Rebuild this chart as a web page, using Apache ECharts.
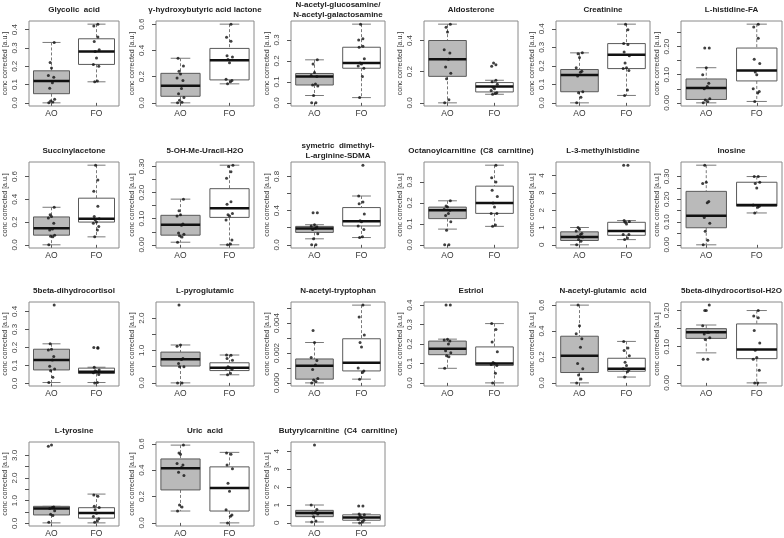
<!DOCTYPE html>
<html>
<head>
<meta charset="utf-8">
<script src="https://cdn.jsdelivr.net/npm/echarts@6/dist/echarts.min.js"></script>
<style>
  html, body { margin: 0; padding: 0; background: #fff; }
  #chart { width: 784px; height: 538px; }
</style>
</head>
<body>
<div id="chart"></div>
<script>
const groups = ['AO', 'FO'];

const titles = [
  'Glycolic  acid', 'γ-hydroxybutyric acid lactone', 'N-acetyl-glucosamine/\nN-acetyl-galactosamine',
  'Aldosterone', 'Creatinine', 'L-histidine-FA',
  'Succinylacetone', '5-OH-Me-Uracil-H2O', 'symetric  dimethyl-\nL-arginine-SDMA',
  'Octanoylcarnitine  (C8  carnitine)', 'L-3-methylhistidine', 'Inosine',
  '5beta-dihydrocortisol', 'L-pyroglutamic', 'N-acetyl-tryptophan',
  'Estriol', 'N-acetyl-glutamic  acid', '5beta-dihydrocortisol-H2O',
  'L-tyrosine', 'Uric  acid', 'Butyrylcarnitine  (C4  carnitine)'
];

// box stats: [lower whisker, Q1, median, Q3, upper whisker]
const aoBox = [
  [0.0, 0.05, 0.12, 0.175, 0.33], [0.0, 0.05, 0.13, 0.225, 0.34], [0.035, 0.085, 0.125, 0.14, 0.205],
  [0.0, 0.17, 0.28, 0.4, 0.505], [0.0, 0.06, 0.15, 0.18, 0.27], [0.0, 0.012, 0.053, 0.085, 0.125],
  [0.0, 0.085, 0.145, 0.245, 0.33], [0.01, 0.037, 0.077, 0.113, 0.175], [0.07, 0.145, 0.19, 0.215, 0.235],
  [0.075, 0.125, 0.165, 0.18, 0.21], [0.0, 0.25, 0.45, 0.75, 1.0], [0.0, 0.075, 0.128, 0.235, 0.35],
  [0.005, 0.075, 0.13, 0.19, 0.22], [0.0, 0.52, 0.73, 0.95, 1.17], [0.0, 0.00025, 0.00115, 0.0016, 0.0027],
  [0.075, 0.145, 0.175, 0.215, 0.225], [0.0, 0.08, 0.21, 0.36, 0.6], [0.083, 0.123, 0.14, 0.15, 0.16],
  [0.02, 0.37, 0.65, 0.75, 0.75], [0.09, 0.25, 0.415, 0.485, 0.59], [0.05, 0.35, 0.55, 0.7, 1.0]
];
const foBox = [
  [0.115, 0.21, 0.28, 0.35, 0.43], [0.145, 0.175, 0.325, 0.415, 0.6], [0.025, 0.165, 0.19, 0.265, 0.375],
  [0.055, 0.07, 0.105, 0.13, 0.145], [0.04, 0.185, 0.26, 0.32, 0.425], [0.005, 0.078, 0.115, 0.195, 0.28],
  [0.07, 0.2, 0.23, 0.41, 0.7], [0.0, 0.105, 0.14, 0.215, 0.305], [0.085, 0.22, 0.275, 0.435, 0.57],
  [0.088, 0.15, 0.2, 0.28, 0.38], [0.3, 0.55, 0.8, 1.3, 1.4], [0.14, 0.17, 0.175, 0.275, 0.3],
  [0.005, 0.055, 0.065, 0.085, 0.09], [0.25, 0.38, 0.47, 0.62, 0.86], [0.00025, 0.0008, 0.00135, 0.00295, 0.0052],
  [0.0, 0.09, 0.1, 0.185, 0.305], [0.045, 0.09, 0.11, 0.19, 0.32], [0.0, 0.067, 0.092, 0.163, 0.2],
  [0.02, 0.23, 0.46, 0.69, 1.29], [0.0, 0.09, 0.265, 0.425, 0.535], [0.0, 0.15, 0.3, 0.45, 0.5]
];

const aoPoints = [
  [0.0, 0.005, 0.01, 0.02, 0.08, 0.11, 0.14, 0.15, 0.19, 0.22, 0.33],
  [0.0, 0.005, 0.02, 0.04, 0.07, 0.11, 0.17, 0.19, 0.22, 0.24, 0.28, 0.34],
  [0.0, 0.0, 0.035, 0.08, 0.085, 0.09, 0.125, 0.13, 0.145, 0.185, 0.205],
  [0.0, 0.02, 0.155, 0.19, 0.23, 0.28, 0.32, 0.34, 0.455, 0.485, 0.505],
  [0.0, 0.03, 0.055, 0.06, 0.145, 0.165, 0.17, 0.19, 0.245, 0.265, 0.27],
  [0.0, 0.005, 0.01, 0.015, 0.05, 0.058, 0.07, 0.1, 0.125, 0.195, 0.195],
  [0.0, 0.07, 0.075, 0.085, 0.13, 0.14, 0.19, 0.235, 0.25, 0.265, 0.33],
  [0.01, 0.03, 0.035, 0.04, 0.045, 0.075, 0.08, 0.11, 0.115, 0.13, 0.175],
  [0.0, 0.0, 0.07, 0.13, 0.18, 0.19, 0.21, 0.22, 0.235, 0.375, 0.375],
  [0.0, 0.0, 0.07, 0.11, 0.14, 0.15, 0.165, 0.17, 0.18, 0.185, 0.21],
  [0.0, 0.2, 0.3, 0.45, 0.5, 0.6, 0.65, 0.8, 0.9, 1.0],
  [0.0, 0.02, 0.06, 0.095, 0.12, 0.185, 0.19, 0.27, 0.275, 0.35],
  [0.005, 0.035, 0.07, 0.08, 0.095, 0.13, 0.15, 0.185, 0.19, 0.22, 0.435],
  [0.0, 0.0, 0.5, 0.5, 0.6, 0.72, 0.75, 1.13, 1.17, 2.4],
  [0.0, 0.0001, 0.0002, 0.0003, 0.0009, 0.0012, 0.0015, 0.0017, 0.0027, 0.0035],
  [0.075, 0.135, 0.14, 0.155, 0.165, 0.2, 0.215, 0.22, 0.225, 0.4, 0.4],
  [0.0, 0.03, 0.06, 0.11, 0.15, 0.275, 0.34, 0.38, 0.44, 0.6],
  [0.065, 0.065, 0.12, 0.125, 0.135, 0.14, 0.14, 0.158, 0.2, 0.2, 0.215],
  [0.05, 0.35, 0.4, 0.55, 0.65, 0.7, 0.72, 3.4, 3.45],
  [0.09, 0.12, 0.135, 0.36, 0.385, 0.42, 0.44, 0.45, 0.52, 0.53, 0.59],
  [0.05, 0.1, 0.35, 0.5, 0.55, 0.6, 0.75, 1.0, 4.35]
];
const foPoints = [
  [0.115, 0.12, 0.2, 0.21, 0.245, 0.28, 0.29, 0.335, 0.36, 0.42, 0.43],
  [0.145, 0.16, 0.17, 0.18, 0.305, 0.33, 0.35, 0.36, 0.47, 0.5, 0.6],
  [0.025, 0.125, 0.165, 0.175, 0.185, 0.19, 0.21, 0.265, 0.27, 0.3, 0.305, 0.375],
  [0.055, 0.06, 0.065, 0.08, 0.09, 0.1, 0.12, 0.135, 0.145, 0.235, 0.245, 0.255],
  [0.04, 0.07, 0.175, 0.185, 0.19, 0.215, 0.255, 0.275, 0.315, 0.32, 0.395, 0.425],
  [0.005, 0.035, 0.04, 0.05, 0.1, 0.11, 0.14, 0.155, 0.23, 0.27, 0.28],
  [0.07, 0.13, 0.16, 0.19, 0.2, 0.22, 0.23, 0.25, 0.34, 0.47, 0.57, 0.7],
  [0.0, 0.003, 0.018, 0.095, 0.11, 0.115, 0.12, 0.155, 0.165, 0.255, 0.28, 0.3, 0.305],
  [0.085, 0.095, 0.18, 0.22, 0.27, 0.28, 0.36, 0.48, 0.5, 0.57, 0.93],
  [0.088, 0.095, 0.15, 0.15, 0.18, 0.2, 0.23, 0.26, 0.3, 0.32, 0.38],
  [0.3, 0.4, 0.6, 0.6, 1.2, 1.3, 1.35, 1.4, 4.6, 4.6],
  [0.14, 0.165, 0.17, 0.175, 0.25, 0.27, 0.275, 0.3, 0.3],
  [0.003, 0.005, 0.05, 0.06, 0.065, 0.07, 0.075, 0.09, 0.195, 0.2, 0.2],
  [0.25, 0.3, 0.42, 0.45, 0.47, 0.5, 0.7, 0.75, 0.85, 0.86],
  [0.00025, 0.0007, 0.0008, 0.001, 0.0024, 0.0027, 0.0032, 0.0044, 0.0052],
  [0.0, 0.05, 0.09, 0.095, 0.1, 0.105, 0.16, 0.21, 0.275, 0.305],
  [0.045, 0.085, 0.1, 0.11, 0.135, 0.16, 0.21, 0.25, 0.27, 0.32],
  [0.0, 0.0, 0.035, 0.065, 0.07, 0.09, 0.11, 0.145, 0.18, 0.185, 0.2],
  [0.05, 0.1, 0.2, 0.3, 0.45, 0.6, 0.7, 0.75, 1.2, 1.25],
  [0.0, 0.05, 0.06, 0.1, 0.24, 0.3, 0.41, 0.44, 0.52, 0.53],
  [0.0, 0.05, 0.15, 0.2, 0.3, 0.4, 0.45, 0.5, 0.95, 0.95]
];

// horizontal offsets of the strip-chart dots (roughly)
const jitter = [-0.06, 0.03, -0.02, 0.07, -0.04, 0.02, 0.05, -0.07, 0.0, -0.03, 0.06, -0.05, 0.03];

const tickLabels = [
  ['0.0', '0.1', '0.2', '0.3', '0.4'], ['0.0', '0.2', '0.4', '0.6'], ['0.0', '0.1', '0.2', '0.3'],
  ['0.0', '0.2', '0.4'], ['0.0', '0.1', '0.2', '0.3', '0.4'], ['0.00', '0.10', '0.20'],
  ['0.0', '0.2', '0.4', '0.6'], ['0.00', '0.10', '0.20', '0.30'], ['0.0', '0.4', '0.8'],
  ['0.0', '0.1', '0.2', '0.3'], ['0', '1', '2', '3', '4'], ['0.00', '0.10', '0.20', '0.30'],
  ['0.0', '0.1', '0.2', '0.3', '0.4'], ['0.0', '1.0', '2.0'], ['0.000', '0.002', '0.004'],
  ['0.0', '0.1', '0.2', '0.3', '0.4'], ['0.0', '0.2', '0.4', '0.6'], ['0.00', '0.10', '0.20'],
  ['0.0', '1.0', '2.0', '3.0'], ['0.0', '0.2', '0.4', '0.6'], ['0', '1', '2', '3', '4']
];
// ticks drawn without a label
const minorTicks = [
  [], [], [], [], [], [0.05, 0.15, 0.25],
  [], [0.05, 0.15, 0.25], [0.2, 0.6], [], [], [0.05, 0.15, 0.25],
  [], [0.5, 1.5], [0.001, 0.003, 0.005], [], [], [0.05, 0.15],
  [0.5, 1.5, 2.5], [], []
];

// panel layout (px)
const colLeft = [29, 156, 291, 424, 556, 681];
const colRight = [119, 254, 385, 518, 650, 782];
const rowTop = [21, 162, 302, 442];
const rowBottom = [106, 248, 386, 526];

const FONT = 'Liberation Sans, Arial, sans-serif';

function renderBox(params, api) {
  const x = api.value(0);
  const half = api.size([0.8, 0])[0] / 2;
  const cap = half / 2;
  const pMin = api.coord([x, api.value(1)]);
  const pQ1 = api.coord([x, api.value(2)]);
  const pMed = api.coord([x, api.value(3)]);
  const pQ3 = api.coord([x, api.value(4)]);
  const pMax = api.coord([x, api.value(5)]);
  const cx = pMed[0];
  const dash = { stroke: '#7a7a7a', lineWidth: 1, lineDash: [3, 2] };
  const solid = { stroke: '#7a7a7a', lineWidth: 1 };
  return {
    type: 'group',
    children: [
      { type: 'line', shape: { x1: cx, y1: pMax[1], x2: cx, y2: pQ3[1] }, style: dash },
      { type: 'line', shape: { x1: cx, y1: pQ1[1], x2: cx, y2: pMin[1] }, style: dash },
      { type: 'line', shape: { x1: cx - cap, y1: pMax[1], x2: cx + cap, y2: pMax[1] }, style: solid },
      { type: 'line', shape: { x1: cx - cap, y1: pMin[1], x2: cx + cap, y2: pMin[1] }, style: solid },
      {
        type: 'rect',
        shape: { x: cx - half, y: pQ3[1], width: half * 2, height: pQ1[1] - pQ3[1] },
        style: { fill: x === 1 ? '#bababa' : '#ffffff', stroke: '#5a5a5a', lineWidth: 1 }
      },
      {
        type: 'line',
        shape: { x1: cx - half, y1: pMed[1], x2: cx + half, y2: pMed[1] },
        style: { stroke: '#111', lineWidth: 2.5 }
      }
    ]
  };
}

const grid = [], xAxis = [], yAxis = [], series = [], title = [];

titles.forEach((name, i) => {
  const col = i % 6, row = Math.floor(i / 6);
  const left = colLeft[col], top = rowTop[row];
  const width = colRight[col] - left, height = rowBottom[row] - top;

  grid.push({
    left, top, width, height,
    show: true, borderColor: '#8a8a8a', borderWidth: 1, backgroundColor: '#fff',
    containLabel: false, outerBoundsMode: 'none'
  });

  const twoLines = name.indexOf('\n') >= 0;
  title.push({
    text: name,
    left: left + width / 2,
    top: top - (twoLines ? 21 : 16),
    textAlign: 'center',
    padding: 0,
    textStyle: { fontFamily: FONT, fontSize: 8, fontWeight: 'bold', color: '#222', lineHeight: 10 }
  });

  const all = aoPoints[i].concat(foPoints[i], aoBox[i], foBox[i]);
  const lo = Math.min(...all), hi = Math.max(...all);
  const pad = (hi - lo) * 0.04;

  const labelMap = {};
  tickLabels[i].forEach(s => { labelMap[parseFloat(s)] = s; });
  const labeled = tickLabels[i].map(parseFloat);

  xAxis.push({
    gridIndex: i, type: 'value', min: 0.5, max: 2.5,
    splitLine: { show: false }, axisLine: { show: false },
    axisTick: { customValues: [1, 2], length: 3, lineStyle: { color: '#555' } },
    axisLabel: {
      customValues: [1, 2], formatter: v => groups[v - 1],
      fontFamily: FONT, fontSize: 8.5, color: '#333', margin: 3
    }
  });

  yAxis.push({
    gridIndex: i, type: 'value', min: lo - pad, max: hi + pad,
    splitLine: { show: false }, axisLine: { show: false },
    axisTick: {
      customValues: labeled.concat(minorTicks[i]).sort((a, b) => a - b),
      length: 4, lineStyle: { color: '#555' }
    },
    axisLabel: {
      customValues: labeled, rotate: 90, formatter: v => labelMap[v] ?? String(v),
      fontFamily: FONT, fontSize: 8, color: '#444', margin: 10
    },
    name: 'conc corrected [a.u.]',
    nameLocation: 'middle', nameRotate: 90, nameGap: 20,
    nameTextStyle: { fontFamily: FONT, fontSize: 7, color: '#333' }
  });

  series.push({
    type: 'custom', xAxisIndex: i, yAxisIndex: i,
    renderItem: renderBox, silent: true, z: 2,
    encode: { x: 0, y: [1, 2, 3, 4, 5] },
    data: [[1].concat(aoBox[i]), [2].concat(foBox[i])]
  });

  const dots = aoPoints[i].map((v, k) => [1 + jitter[k % jitter.length], v])
    .concat(foPoints[i].map((v, k) => [2 + jitter[(k + 4) % jitter.length], v]));
  series.push({
    type: 'scatter', xAxisIndex: i, yAxisIndex: i, z: 3,
    symbolSize: 3, itemStyle: { color: '#111' }, silent: true,
    data: dots
  });
});

const chart = echarts.init(document.getElementById('chart'), null, { renderer: 'canvas' });
chart.setOption({
  backgroundColor: '#fff',
  animation: false,
  title, grid, xAxis, yAxis, series
});
</script>
</body>
</html>
